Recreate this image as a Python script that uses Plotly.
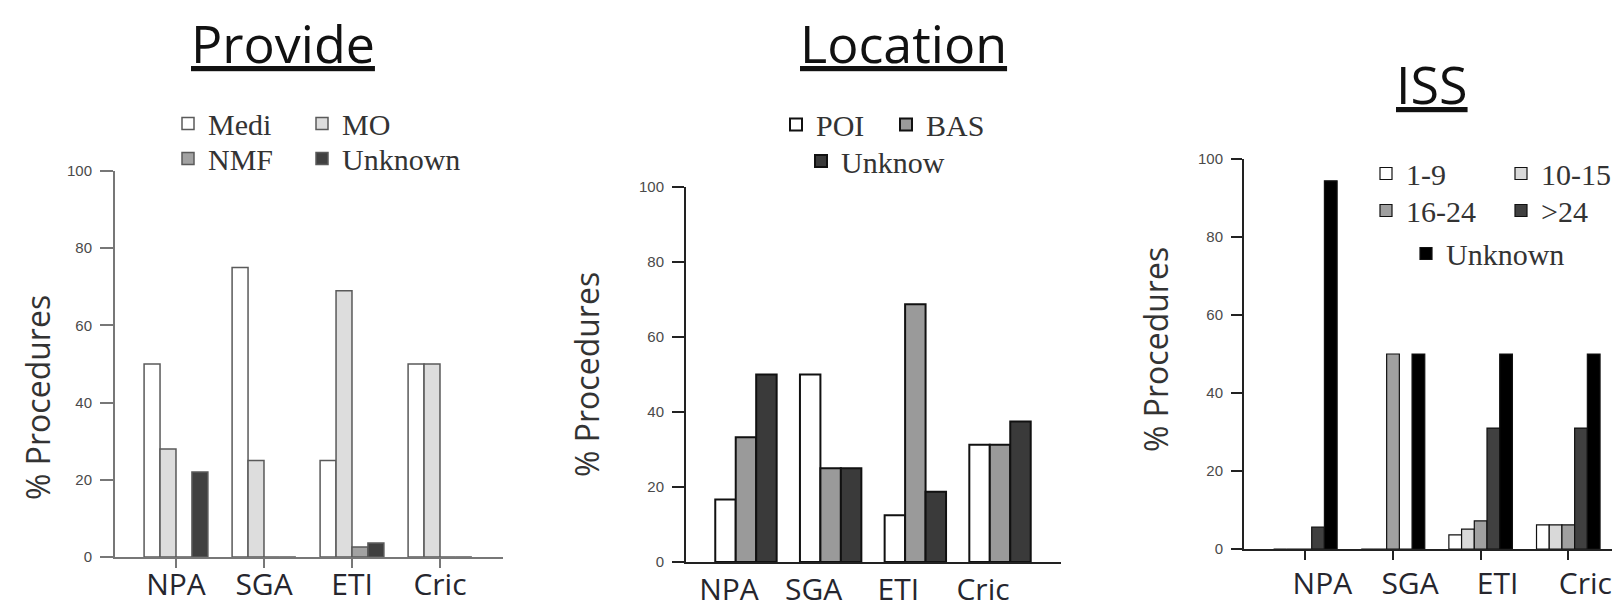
import plotly.graph_objects as go

# ---------------- data ----------------
categories = ["NPA", "SGA", "ETI", "Cric"]
y_ticks = [0, 20, 40, 60, 80, 100]

# Panel 1: Provide
provide_names = ["Medi", "MO", "NMF", "Unknown"]
provide_medi = [50, 75, 25, 50]
provide_mo = [28, 25, 69, 50]
provide_nmf = [0, 0, 2.6, 0]
provide_unknown = [22, 0, 3.6, 0]

# Panel 2: Location
location_names = ["POI", "BAS", "Unknow"]
location_poi = [16.7, 50, 12.5, 31.25]
location_bas = [33.3, 25, 68.75, 31.25]
location_unknow = [50, 25, 18.75, 37.5]

# Panel 3: ISS
iss_names = ["1-9", "10-15", "16-24", ">24", "Unknown"]
iss_1_9 = [0, 0, 3.6, 6.2]
iss_10_15 = [0, 0, 5.1, 6.2]
iss_16_24 = [0, 50, 7.2, 6.2]
iss_gt24 = [5.6, 0, 31, 31]
iss_unknown = [94.4, 50, 50, 50]

titles = ["Provide", "Location", "ISS"]
y_title = "% Procedures"

# ---------------- figure ----------------
W, H = 1620, 606
fig = go.Figure()


def add_bar(name, values, color, line_color, line_w, xa, ya, legend, lw):
    fig.add_trace(go.Bar(
        x=categories, y=values, name=name,
        marker=dict(color=color, line=dict(color=line_color, width=line_w)),
        xaxis=xa, yaxis=ya, legend=legend, legendwidth=lw,
    ))


p1_cols = ["#ffffff", "#dddddd", "#a2a2a2", "#404040"]
p1_vals = [provide_medi, provide_mo, provide_nmf, provide_unknown]
p1_leg = ["legend", "legend", "legend2", "legend2"]
p1_lw = [89, 130, 89, 130]
for n, v, c, lg, lw in zip(provide_names, p1_vals, p1_cols, p1_leg, p1_lw):
    add_bar(n, v, c, "#5a5a5a", 1.5, "x", "y", lg, lw)

p2_cols = ["#ffffff", "#9a9a9a", "#3a3a3a"]
p2_vals = [location_poi, location_bas, location_unknow]
p2_leg = ["legend3", "legend3", "legend4"]
p2_lw = [65, 90, 120]
for n, v, c, lg, lw in zip(location_names, p2_vals, p2_cols, p2_leg, p2_lw):
    add_bar(n, v, c, "#111111", 2, "x2", "y2", lg, lw)

p3_cols = ["#ffffff", "#d9d9d9", "#a0a0a0", "#404040", "#000000"]
p3_vals = [iss_1_9, iss_10_15, iss_16_24, iss_gt24, iss_unknown]
p3_leg = ["legend5", "legend5", "legend6", "legend6", "legend7"]
p3_lw = [90, 75, 90, 75, 130]
for n, v, c, lg, lw in zip(iss_names, p3_vals, p3_cols, p3_leg, p3_lw):
    add_bar(n, v, c, "#111111", 1.2, "x3", "y3", lg, lw)


def px_x(v):
    return v / W


def px_y(v):
    return 1 - v / H


cat_font = dict(family="Open Sans", size=30, color="#26262e")
tick_font = dict(family="Liberation Sans", size=15, color="#4a4a4a")


def xaxis(dom, rng, anchor, lc, ticks, shift, standoff):
    return dict(
        domain=dom, range=rng, anchor=anchor, type="category",
        showline=True, linecolor=lc, linewidth=2, showgrid=False, zeroline=False,
        ticks=ticks, ticklen=9, tickwidth=2, tickcolor=lc,
        tickfont=cat_font, ticklabelshift=shift, ticklabelstandoff=standoff,
    )


def yaxis(dom, anchor, lc, ticklen):
    return dict(
        domain=dom, range=[0, 100], anchor=anchor,
        tickvals=y_ticks, ticktext=[str(t) for t in y_ticks],
        showline=True, linecolor=lc, linewidth=2, showgrid=False, zeroline=False,
        ticks="outside", ticklen=ticklen, tickwidth=2, tickcolor=lc,
        tickfont=tick_font, ticklabelstandoff=5,
    )


fig.update_layout(
    width=W, height=H,
    margin=dict(l=0, r=0, t=0, b=0, autoexpand=False),
    paper_bgcolor="white", plot_bgcolor="white",
    barmode="group", bargap=0.275, bargroupgap=0,
    xaxis=xaxis([px_x(107), px_x(495)], [-0.693, 3.716], "y", "#777777", "outside", 0, -9),
    yaxis=yaxis([px_y(549), px_y(163)], "x", "#777777", 13),
    xaxis2=xaxis([px_x(678), px_x(1053)], [-0.708, 3.72], "y2", "#222222", "", -17, 0),
    yaxis2=yaxis([px_y(554), px_y(179)], "x2", "#222222", 12),
    xaxis3=xaxis([px_x(1236), px_x(1612)], [-0.70, 3.59], "y3", "#222222", "outside", 17, -2),
    yaxis3=yaxis([px_y(541), px_y(151)], "x3", "#222222", 11),
)

leg_font = dict(family="Liberation Serif", size=30, color="#333333")


def legend(x_left, y_center, ew):
    return dict(
        orientation="h", x=px_x(x_left), y=px_y(y_center), xanchor="left", yanchor="middle",
        font=leg_font, entrywidth=ew, entrywidthmode="pixels", bgcolor="rgba(0,0,0,0)",
        borderwidth=0, itemwidth=30, tracegroupgap=0,
    )


fig.update_layout(
    legend=legend(160, 115.5, 89),
    legend2=legend(160, 150.5, 89),
    legend3=legend(768, 116.5, 65),
    legend4=legend(793, 153, 65),
    legend5=legend(1358, 165.5, 90),
    legend6=legend(1358, 202.5, 90),
    legend7=legend(1398, 245.5, 90),
)

annotations = []
title_pos = [(275, 34), (895, 34), (1424, 75)]
for t, (cx, cy) in zip(titles, title_pos):
    annotations.append(dict(
        text="<u>" + t + "</u>", x=px_x(cx), y=px_y(cy), xref="paper", yref="paper",
        xanchor="center", yanchor="middle", showarrow=False,
        font=dict(family="Open Sans", size=52, color="#111111"),
    ))
ytitle_pos = [(29, 390), (579, 367), (1148, 342)]
for cx, cy in ytitle_pos:
    annotations.append(dict(
        text=y_title, x=px_x(cx), y=px_y(cy), xref="paper", yref="paper",
        xanchor="center", yanchor="middle", showarrow=False, textangle=-90,
        font=dict(family="Open Sans", size=32, color="#333333"),
    ))
fig.update_layout(annotations=annotations)

fig.write_html("out.html")
